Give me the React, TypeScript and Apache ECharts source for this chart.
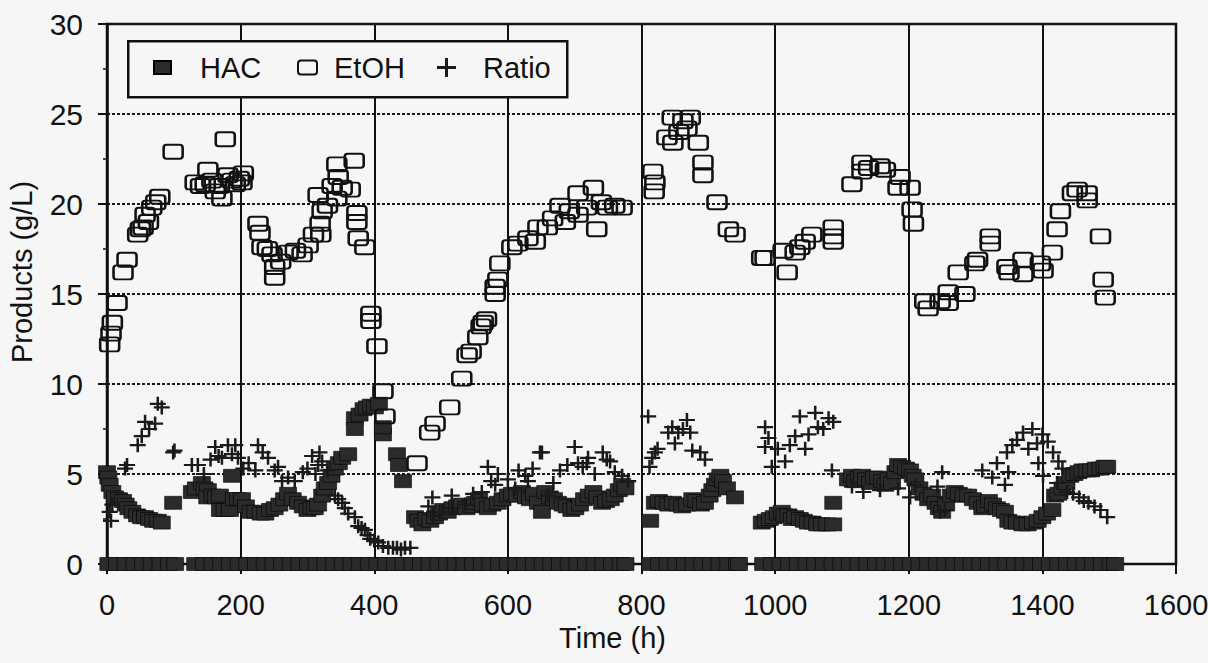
import React, { useEffect, useRef } from "react";
import * as echarts from "echarts";

// ---- data (time h, value g/L) ----
const hacData: [number, number][] = [
  [0, 5.1], [2, 4.8], [4, 4.4], [8, 4.0], [12, 3.7], [18, 3.6], [24, 3.5], [28, 3.3], [32, 3.1], [38, 2.9], [45, 2.7], [51, 2.6], [57, 2.6], [63, 2.5], [69, 2.4], [76, 2.4], [82, 2.3],
  [99, 3.4],
  [127, 4.0], [133, 4.2], [142, 4.5], [146, 4.2], [151, 4.1], [150, 3.7], [158, 3.8], [163, 3.7], [169, 3.8], [169, 3.0], [176, 3.0], [184, 3.0], [187, 4.9], [190, 3.6], [196, 3.6], [202, 3.6], [208, 3.2], [215, 2.9], [222, 2.9], [230, 2.8], [237, 2.8], [244, 3.0], [251, 3.1], [258, 3.3], [265, 3.6], [271, 3.9], [278, 3.6], [286, 3.4], [293, 3.2], [300, 3.0], [306, 3.1], [311, 3.1], [316, 3.3], [322, 3.8], [326, 4.2], [331, 4.5], [336, 4.9], [341, 5.3], [347, 5.6], [352, 5.9], [361, 6.1], [371, 8.1], [371, 7.5], [378, 8.3], [384, 8.6], [389, 8.7], [395, 8.8], [401, 8.7], [407, 8.9], [413, 7.2], [413, 7.6], [434, 6.1], [437, 5.5], [443, 4.6],
  [461, 2.6], [466, 2.4], [472, 2.2], [478, 2.5], [484, 2.4], [491, 2.6], [497, 2.8], [503, 3.0], [510, 2.9], [517, 3.1], [524, 3.2], [531, 3.3], [538, 3.1], [545, 3.2], [551, 3.4], [557, 3.6], [563, 3.3], [570, 3.1], [577, 3.3], [585, 3.4], [592, 3.6], [600, 3.8], [606, 3.9], [614, 3.8], [621, 4.0], [627, 3.7], [633, 3.6], [639, 3.9], [645, 3.4], [651, 2.9], [656, 4.0], [663, 3.7], [669, 3.6], [675, 3.4], [682, 3.3], [688, 3.2], [695, 3.0], [701, 3.1], [708, 3.3], [714, 3.6], [721, 3.8], [728, 4.0], [734, 3.7], [741, 3.4], [747, 3.5], [754, 3.6], [760, 3.8], [766, 4.1], [771, 4.4], [776, 4.2],
  [813, 2.4], [820, 3.4], [826, 3.5], [833, 3.4], [840, 3.3], [847, 3.4], [854, 3.3], [861, 3.2], [868, 3.3], [876, 3.6], [882, 3.5], [889, 3.3], [895, 3.4], [902, 3.8], [906, 4.1], [910, 4.4], [914, 4.7], [918, 4.9], [922, 4.6], [928, 4.2], [940, 3.7],
  [980, 2.3], [986, 2.4], [992, 2.5], [998, 2.6], [1004, 2.8], [1010, 2.9], [1014, 2.7], [1020, 2.7], [1025, 2.5], [1030, 2.6], [1037, 2.5], [1043, 2.4], [1049, 2.3], [1056, 2.3], [1063, 2.2], [1070, 2.2], [1078, 2.2], [1087, 2.2], [1087, 3.4],
  [1109, 4.7], [1115, 4.9], [1120, 4.6], [1125, 4.8], [1130, 4.9], [1136, 4.7], [1142, 4.5], [1148, 4.8], [1154, 4.8], [1160, 4.6], [1165, 4.4], [1170, 4.7], [1175, 4.5], [1180, 5.1], [1184, 5.5], [1190, 5.4], [1196, 5.3], [1202, 5.2], [1206, 4.9], [1210, 4.7], [1216, 4.2], [1222, 3.9], [1229, 3.6], [1235, 3.8], [1240, 3.4], [1245, 3.1], [1250, 2.9], [1256, 3.3], [1263, 3.8], [1269, 4.0], [1275, 3.9], [1282, 3.8], [1289, 3.8], [1296, 3.6], [1303, 3.4], [1310, 3.1], [1314, 3.2], [1320, 3.5], [1326, 3.3], [1332, 3.1], [1338, 3.0], [1344, 2.9], [1349, 2.4], [1355, 2.3], [1362, 2.3], [1370, 2.2], [1378, 2.2], [1386, 2.3], [1393, 2.4], [1400, 2.6], [1407, 2.8], [1415, 3.0], [1419, 3.8], [1424, 3.9], [1430, 4.2], [1436, 4.5], [1442, 4.9], [1448, 5.0], [1454, 5.1], [1460, 5.2], [1467, 5.2], [1473, 5.2], [1480, 5.3], [1487, 5.3], [1493, 5.4], [1497, 5.4],
];

// HAC samples lying on the zero line (the dark band along the bottom)
const hacZeroTimes: number[] = [
  2, 15, 28, 41, 54, 67, 80, 93, 102,
  132, 145, 158, 171, 184, 197, 210, 223, 236, 249, 262, 275, 288, 301, 314, 327, 340, 353, 366, 379, 392, 405, 418, 431, 444, 457, 470, 483, 496, 509, 522, 535, 548, 561, 574, 587, 600, 613, 626, 639, 652, 665, 678, 691, 704, 717, 730, 743, 756, 769, 776,
  813, 826, 839, 852, 865, 878, 891, 904, 917, 930, 943, 946,
  982, 995, 1008, 1021, 1034, 1047, 1060, 1073, 1086, 1099, 1112, 1125, 1138, 1151, 1164, 1177, 1190, 1203, 1216, 1229, 1242, 1255, 1268, 1281, 1294, 1307, 1320, 1333, 1346, 1359, 1372, 1385, 1398, 1411, 1424, 1437, 1450, 1463, 1476, 1489, 1502, 1509,
];

const etohData: [number, number][] = [
  [4, 12.2], [6, 12.8], [8, 13.4], [15, 14.5], [24, 16.2], [30, 16.9], [46, 18.3], [50, 18.6], [54, 18.7], [57, 19.4], [62, 19.0], [67, 19.8], [73, 20.1], [79, 20.4], [99, 22.9],
  [132, 21.2], [140, 21.0], [147, 21.1], [151, 21.9], [157, 21.3], [162, 20.7], [168, 21.0], [172, 20.3], [177, 23.6], [181, 21.6], [187, 21.3], [192, 21.1], [198, 21.4], [202, 21.2], [204, 21.7],
  [226, 18.9], [229, 18.4], [232, 17.6], [240, 17.5], [247, 17.2], [251, 16.5], [251, 15.9], [260, 16.8], [271, 17.3], [282, 17.4], [292, 17.2], [301, 17.7], [309, 18.3], [316, 20.5], [322, 19.6], [319, 18.9], [320, 18.3], [330, 19.9], [337, 21.0], [344, 22.2], [346, 21.5], [344, 20.3], [352, 20.9], [364, 20.8], [370, 22.4], [374, 19.5], [374, 19.0], [376, 18.1], [386, 17.6],
  [395, 13.9], [395, 13.5], [404, 12.1], [413, 9.6], [416, 8.2],
  [464, 5.6], [483, 7.3], [491, 7.8], [513, 8.7], [531, 10.3], [539, 11.6], [545, 11.8], [555, 12.6], [560, 13.2], [563, 13.4], [568, 13.6], [581, 15.4], [581, 15.0], [585, 15.8], [588, 16.7], [606, 17.6], [615, 17.8], [630, 18.1], [641, 17.9], [645, 18.7], [659, 18.7], [667, 19.2], [678, 19.9], [686, 19.0], [692, 19.6], [705, 20.6], [705, 19.4], [718, 19.8], [728, 20.9], [733, 18.6], [740, 20.1], [749, 19.8], [760, 19.9], [771, 19.8],
  [817, 21.8], [820, 21.2], [819, 20.7], [838, 23.7], [846, 24.8], [847, 23.4], [856, 24.0], [862, 24.6], [868, 24.2], [873, 24.8], [885, 23.4], [892, 22.3], [892, 21.6], [913, 20.1], [930, 18.6], [940, 18.3],
  [980, 17.0], [985, 17.0], [1012, 17.4], [1018, 16.2], [1030, 17.3], [1037, 17.6], [1045, 17.9], [1055, 18.3], [1087, 18.7], [1087, 17.9], [1087, 18.2],
  [1115, 21.1], [1130, 22.3], [1130, 21.8], [1140, 22.0], [1157, 22.1], [1165, 21.9], [1184, 20.9], [1187, 21.5], [1202, 20.9], [1205, 19.7], [1207, 18.9],
  [1224, 14.6], [1229, 14.2], [1247, 14.6], [1259, 15.1], [1259, 14.5], [1274, 16.2], [1284, 15.0], [1299, 16.7], [1303, 16.9], [1322, 18.2], [1322, 17.8], [1347, 16.5], [1350, 16.2], [1371, 16.9], [1371, 16.1], [1397, 16.7], [1401, 16.3], [1415, 17.3], [1422, 18.6], [1427, 19.6], [1445, 20.6], [1452, 20.8], [1467, 20.2], [1467, 20.6], [1487, 18.2], [1491, 15.8], [1494, 14.8],
];

const ratioData: [number, number][] = [
  [4, 2.9], [6, 2.4], [8, 3.3], [27, 5.3], [30, 5.5], [46, 6.6], [52, 7.1], [57, 7.9], [63, 7.5], [72, 7.8], [76, 8.9], [82, 8.7], [99, 6.2], [101, 6.3],
  [127, 5.5], [136, 5.5], [145, 5.0], [155, 5.8], [162, 6.5], [167, 6.0], [172, 5.9], [181, 6.6], [187, 6.1], [192, 6.6], [196, 5.9], [204, 5.3], [212, 5.6], [222, 5.2], [226, 6.6], [233, 6.2], [241, 5.9], [251, 5.2], [256, 5.4], [262, 4.6], [271, 4.8], [281, 4.6], [293, 5.1], [300, 5.3], [307, 6.0], [312, 5.0], [316, 5.5], [318, 6.2], [322, 5.7], [330, 5.2],
  [341, 3.8], [346, 3.6], [352, 3.4], [356, 3.1], [361, 2.8], [371, 2.6], [376, 2.1], [381, 2.0], [386, 1.9], [390, 1.6], [394, 1.4], [400, 1.3], [406, 1.2], [413, 1.0], [421, 0.9], [428, 0.9], [434, 0.9], [440, 0.8], [446, 0.9], [454, 0.9],
  [481, 3.2], [487, 3.7], [488, 2.7], [501, 2.9], [516, 3.8], [516, 3.1], [536, 3.3], [548, 3.9], [561, 4.0], [570, 5.4], [575, 4.6], [581, 4.4], [585, 5.0], [600, 4.7], [611, 4.2], [616, 5.2], [626, 4.9], [630, 4.6], [637, 5.3], [648, 6.2], [651, 6.2], [660, 3.8], [668, 4.5], [678, 5.2], [689, 5.5], [700, 6.5], [705, 5.6], [712, 5.4], [718, 5.6], [720, 5.9], [730, 5.0], [742, 6.2], [748, 5.8], [753, 5.7], [760, 5.1], [771, 4.9], [780, 4.6],
  [810, 8.2], [812, 5.4], [816, 5.9], [820, 6.2], [824, 6.4], [840, 7.3], [846, 7.6], [850, 6.7], [855, 7.3], [862, 7.5], [868, 8.0], [873, 7.3], [876, 6.3], [888, 6.2], [895, 5.8],
  [985, 7.6], [985, 6.5], [990, 7.0], [995, 5.4], [1004, 6.4], [1015, 5.7], [1022, 6.6], [1030, 7.1], [1037, 8.2], [1045, 6.4], [1050, 7.2], [1060, 8.4], [1064, 7.6], [1072, 7.5], [1080, 8.1], [1087, 7.9], [1085, 5.2],
  [1115, 4.3], [1132, 4.0], [1157, 4.1], [1184, 4.2], [1202, 3.7], [1210, 4.4], [1243, 4.3], [1247, 2.9], [1250, 5.1], [1254, 3.0],
  [1310, 5.2], [1325, 4.8], [1332, 5.6], [1344, 4.4], [1347, 6.2], [1349, 5.1], [1355, 6.6], [1362, 6.9], [1371, 7.3], [1379, 6.4], [1385, 7.5], [1392, 6.7], [1394, 5.6], [1400, 7.2], [1401, 4.9], [1408, 6.8], [1416, 6.2], [1422, 4.5], [1424, 5.7], [1430, 5.3], [1437, 4.0], [1446, 3.9], [1455, 3.7], [1462, 3.5], [1469, 3.4], [1478, 3.2], [1487, 3.0], [1497, 2.6],
];

const X_MIN = 0, X_MAX = 1600, X_STEP = 200;
const Y_MIN = 0, Y_MAX = 30, Y_STEP = 5;

const FONT = 'Arial, "Liberation Sans", Helvetica, sans-serif';
const INK = "#111";
const BG = "#f6f6f6";

const HAC_SYMBOL = "path://M0,0H17V13H0Z";
const ETOH_SYMBOL = "path://M3,0H16Q19,0 19,3V11Q19,14 16,14H3Q0,14 0,11V3Q0,0 3,0Z";
const PLUS_SYMBOL = "path://M8,0H11V8H19V11H11V19H8V11H0V8H8Z";

export default function App() {
  const ref = useRef<HTMLDivElement>(null);
  useEffect(() => {
    const chart = echarts.init(ref.current!, null, { renderer: "svg" });
    const legendText = (padLeft: number) => ({ fontSize: 29, color: INK, fontFamily: FONT, padding: [0, 0, 0, padLeft] });
    chart.setOption({
      animation: false,
      backgroundColor: BG,
      textStyle: { fontFamily: FONT },
      grid: {
        left: 107, right: 32, top: 24, bottom: 99, show: true, borderColor: INK, borderWidth: 2.5,
        backgroundColor: "transparent", containLabel: false, outerBoundsMode: "none",
      },
      legend: [
        { data: [{ name: "HAC", icon: HAC_SYMBOL }], left: 153, top: 53, padding: 0, itemWidth: 17, itemHeight: 13, selectedMode: false, textStyle: legendText(24) },
        { data: [{ name: "EtOH", icon: ETOH_SYMBOL }], left: 297, top: 53, padding: 0, itemWidth: 19, itemHeight: 14, selectedMode: false, textStyle: legendText(12) },
        { data: [{ name: "Ratio", icon: PLUS_SYMBOL }], left: 437, top: 53, padding: 0, itemWidth: 19, itemHeight: 19, selectedMode: false, textStyle: legendText(22) },
      ],
      graphic: [
        { type: "rect", left: 127, top: 40, z: 3, shape: { width: 439, height: 56 }, style: { fill: BG, stroke: INK, lineWidth: 2.5 } },
      ],
      xAxis: {
        type: "value", min: X_MIN, max: X_MAX, interval: X_STEP,
        name: "Time (h)", nameLocation: "middle", nameGap: 56,
        nameTextStyle: { fontSize: 29, color: INK, fontFamily: FONT, padding: [0, 58, 0, 0] },
        axisLine: { show: true, onZero: false, lineStyle: { color: INK, width: 2 } },
        axisTick: { show: true, length: 10, lineStyle: { color: INK, width: 2 } },
        axisLabel: { fontSize: 29, color: INK, margin: 26, fontFamily: FONT, formatter: (v: number) => String(v) },
        splitLine: { show: true, lineStyle: { color: INK, width: 2, type: "solid" } },
      },
      yAxis: {
        type: "value", min: Y_MIN, max: Y_MAX, interval: Y_STEP,
        name: "Products (g/L)", nameLocation: "middle", nameGap: 71,
        nameTextStyle: { fontSize: 29, color: INK, fontFamily: FONT, padding: [0, 0, 0, 44] },
        axisLine: { show: true, lineStyle: { color: INK, width: 2.5 } },
        axisTick: { show: true, length: 9, lineStyle: { color: INK, width: 2 } },
        minorTick: { show: true, splitNumber: 2, length: 4, lineStyle: { color: INK, width: 1.5 } },
        axisLabel: { fontSize: 30, color: INK, margin: 24, fontFamily: FONT, formatter: (v: number) => String(v) },
        splitLine: { show: true, lineStyle: { color: "#1a1a1a", width: 2.2, type: [3, 2] } },
      },
      series: [
        {
          name: "HAC", type: "scatter", symbol: HAC_SYMBOL, symbolSize: [17, 13], z: 3,
          itemStyle: { color: "#2b2b2b", borderColor: "#000", borderWidth: 0.6, opacity: 1 },
          data: [...hacData, ...hacZeroTimes.map((t) => [t, 0])],
        },
        {
          name: "EtOH", type: "scatter", symbol: ETOH_SYMBOL, symbolSize: [19, 14], z: 4,
          itemStyle: { color: "rgba(0,0,0,0)", borderColor: INK, borderWidth: 2.2, opacity: 1 },
          data: etohData,
        },
        {
          name: "Ratio", type: "scatter", symbol: PLUS_SYMBOL, symbolSize: [16, 14], z: 5,
          itemStyle: { color: "#1a1a1a", opacity: 1 },
          data: ratioData,
        },
      ],
    });
    return () => chart.dispose();
  }, []);
  return <div ref={ref} style={{ position: "fixed", left: 0, top: 0, width: 1208, height: 663 }} />;
}
